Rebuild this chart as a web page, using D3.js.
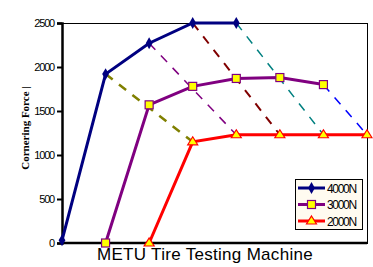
<!DOCTYPE html>
<html>
<head>
<meta charset="utf-8">
<script src="https://cdn.jsdelivr.net/npm/d3@7"></script>
<style>
  body { margin: 0; background: #fff; }
</style>
</head>
<body>
<svg id="chart" width="373" height="267"></svg>
<script>
// slip steps along the x axis (no labels shown)
var steps = [0, 1, 2, 3, 4, 5, 6, 7];
var yTicks = [0, 500, 1000, 1500, 2000, 2500];

// main series: [step, force]
var load4000 = [[0, 30], [1, 1920], [2, 2270], [3, 2500], [4, 2500]];
var load3000 = [[1, 0], [2, 1570], [3, 1780], [4, 1870], [5, 1880], [6, 1800]];
var load2000 = [[2, 0], [3, 1150], [4, 1230], [5, 1230], [6, 1230], [7, 1230]];

// dashed connector lines between loads
var linkOlive = [[1, 1920], [3, 1150]];
var linkPurple = [[2, 2270], [4, 1230]];
var linkMaroon = [[3, 2500], [5, 1230]];
var linkTeal = [[4, 2500], [6, 1230]];
var linkBlue = [[6, 1800], [7, 1230]];

var svg = d3.select("#chart"),
    plotLeft = 62, plotTop = 23, plotRight = 367, plotBottom = 243;

var x = d3.scaleLinear().domain([steps[0], steps[steps.length - 1]]).range([plotLeft, plotRight]);
var y = d3.scaleLinear().domain([0, 2500]).range([plotBottom, plotTop]);

var line = d3.line()
    .x(function(d) { return x(d[0]); })
    .y(function(d) { return y(d[1]); });

// plot frame (top and right thin)
svg.append("rect")
    .attr("x", plotLeft + 0.5).attr("y", plotTop + 0.5)
    .attr("width", plotRight - plotLeft).attr("height", plotBottom - plotTop)
    .attr("fill", "none").attr("stroke", "#000").attr("stroke-width", 1);

// dashed links
var links = [
    { d: linkOlive, c: "#808000", w: 2.5, dash: "9,8" },
    { d: linkPurple, c: "#800080", w: 1.5, dash: "9,8" },
    { d: linkMaroon, c: "#800000", w: 2, dash: "9,8" },
    { d: linkTeal, c: "#008080", w: 1.5, dash: "9,8" },
    { d: linkBlue, c: "#0000ff", w: 1.5, dash: "9,8" }
];
links.forEach(function(l) {
    svg.append("path")
        .attr("d", line(l.d))
        .attr("fill", "none")
        .attr("stroke", l.c)
        .attr("stroke-width", l.w)
        .attr("stroke-dasharray", l.dash);
});

// axes
var yAxis = d3.axisLeft(y).tickValues(yTicks).tickFormat(d3.format("d"))
    .tickSize(5).tickPadding(3);
var gy = svg.append("g").attr("transform", "translate(" + plotLeft + ",0)").call(yAxis);
gy.select(".domain").attr("stroke-width", 2.5);
gy.selectAll(".tick line").attr("stroke-width", 2);
gy.selectAll("text")
    .style("font-family", "Liberation Sans, Arial, sans-serif")
    .style("font-size", "11px")
    .style("letter-spacing", "-1.2px")
    .attr("fill", "#000");

svg.append("line")
    .attr("x1", plotLeft).attr("x2", plotRight)
    .attr("y1", plotBottom).attr("y2", plotBottom)
    .attr("stroke", "#000").attr("stroke-width", 2.5);

// series
var series = [
    { d: load3000, c: "#800080", marker: "square" },
    { d: load2000, c: "#ff0000", marker: "triangle" },
    { d: load4000, c: "#000080", marker: "diamond" }
];

function drawMarker(g, type, cx, cy) {
    if (type === "diamond") {
        g.append("path")
            .attr("d", d3.symbol().type(d3.symbolDiamond).size(40)())
            .attr("transform", "translate(" + cx + "," + cy + ")")
            .attr("fill", "#000080");
    } else if (type === "square") {
        g.append("rect")
            .attr("x", cx - 4).attr("y", cy - 4)
            .attr("width", 8).attr("height", 8)
            .attr("fill", "#ffff00").attr("stroke", "#800080").attr("stroke-width", 1.2);
    } else {
        g.append("path")
            .attr("d", "M" + cx + "," + (cy - 5) + "L" + (cx + 5) + "," + (cy + 3) + "L" + (cx - 5) + "," + (cy + 3) + "Z")
            .attr("fill", "#ffff00").attr("stroke", "#ff0000").attr("stroke-width", 1.2);
    }
}

series.forEach(function(s) {
    svg.append("path")
        .attr("d", line(s.d))
        .attr("fill", "none")
        .attr("stroke", s.c)
        .attr("stroke-width", 3);
    var g = svg.append("g");
    s.d.forEach(function(p) {
        drawMarker(g, s.marker, x(p[0]), y(p[1]));
    });
});

// legend
var legend = svg.append("g");
legend.append("rect")
    .attr("x", 295.5).attr("y", 179.5)
    .attr("width", 67).attr("height", 50)
    .attr("fill", "#fffbf0").attr("stroke", "#000").attr("stroke-width", 1);

var legendItems = [
    { key: "4000N", c: "#000080", marker: "diamond" },
    { key: "3000N", c: "#800080", marker: "square" },
    { key: "2000N", c: "#ff0000", marker: "triangle" }
];
legendItems.forEach(function(d, i) {
    var ly = 188 + i * 16.5;
    legend.append("line")
        .attr("x1", 298).attr("x2", 325)
        .attr("y1", ly).attr("y2", ly)
        .attr("stroke", d.c).attr("stroke-width", 3);
    drawMarker(legend, d.marker, 311.5, ly);
    legend.append("text")
        .attr("x", 327).attr("y", ly + 4.5)
        .style("font-family", "Liberation Sans, Arial, sans-serif")
        .style("font-size", "12px")
        .style("letter-spacing", "-1.3px")
        .text(d.key);
});

// titles
svg.append("text")
    .attr("transform", "translate(29,128) rotate(-90)")
    .attr("text-anchor", "middle")
    .style("font-family", "Liberation Serif, Times New Roman, serif")
    .style("font-weight", "bold")
    .style("font-size", "11px")
    .text("Cornering Force |");

svg.append("text")
    .attr("x", 205).attr("y", 260)
    .attr("text-anchor", "middle")
    .style("font-family", "Liberation Sans, Arial, sans-serif")
    .style("font-size", "17px")
    .style("letter-spacing", "0.3px")
    .text("METU Tire Testing Machine");
</script>
</body>
</html>
